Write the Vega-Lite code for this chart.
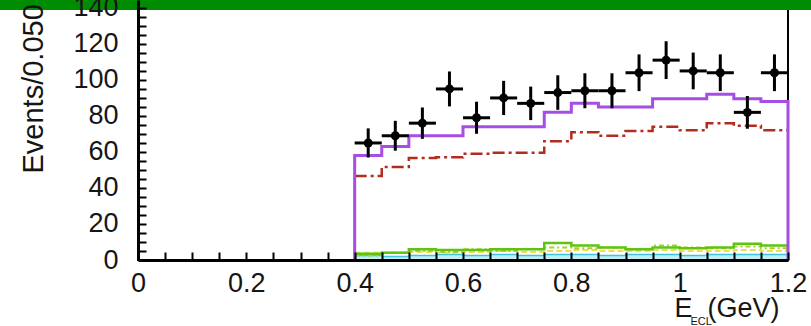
{
  "$schema": "https://vega.github.io/schema/vega-lite/v6.json",
  "width": 650,
  "height": 260,
  "autosize": {"type": "none"},
  "padding": {"left": 138, "top": 0, "right": 23, "bottom": 66},
  "background": "white",
  "config": {"view": {"stroke": "black", "strokeWidth": 2}, "font": "Liberation Sans"},
  "datasets": {
    "total": [
      {"i": 0, "x": 0.4, "v": 0}, {"i": 1, "x": 0.4, "v": 58}, {"i": 2, "x": 0.45, "v": 63},
      {"i": 3, "x": 0.5, "v": 69}, {"i": 4, "x": 0.55, "v": 69}, {"i": 5, "x": 0.6, "v": 74},
      {"i": 6, "x": 0.65, "v": 74}, {"i": 7, "x": 0.7, "v": 74}, {"i": 8, "x": 0.75, "v": 82},
      {"i": 9, "x": 0.8, "v": 87}, {"i": 10, "x": 0.85, "v": 85}, {"i": 11, "x": 0.9, "v": 85},
      {"i": 12, "x": 0.95, "v": 89.5}, {"i": 13, "x": 1.0, "v": 89.5}, {"i": 14, "x": 1.05, "v": 92},
      {"i": 15, "x": 1.1, "v": 89.5}, {"i": 16, "x": 1.15, "v": 88}, {"i": 17, "x": 1.2, "v": 88},
      {"i": 18, "x": 1.2, "v": 0}
    ],
    "comp": [
      {"x": 0.4, "bkg": 46.7, "g1": 3.5, "g2": 2.5, "yel": 4, "cy": 2.5},
      {"x": 0.45, "bkg": 51.7, "g1": 4, "g2": 4, "yel": 4, "cy": 2},
      {"x": 0.5, "bkg": 56.7, "g1": 6, "g2": 5, "yel": 4.5, "cy": 2.5},
      {"x": 0.55, "bkg": 57, "g1": 5.5, "g2": 4.5, "yel": 4, "cy": 3},
      {"x": 0.6, "bkg": 59, "g1": 5.5, "g2": 6, "yel": 4.5, "cy": 2.5},
      {"x": 0.65, "bkg": 59.5, "g1": 6, "g2": 5, "yel": 5, "cy": 3},
      {"x": 0.7, "bkg": 59.5, "g1": 6, "g2": 6, "yel": 4.5, "cy": 2.5},
      {"x": 0.75, "bkg": 66, "g1": 9.5, "g2": 7, "yel": 5, "cy": 3},
      {"x": 0.8, "bkg": 71, "g1": 8, "g2": 6.5, "yel": 5.5, "cy": 3},
      {"x": 0.85, "bkg": 69, "g1": 7, "g2": 7, "yel": 5, "cy": 2.5},
      {"x": 0.9, "bkg": 71.7, "g1": 6, "g2": 6, "yel": 5, "cy": 3},
      {"x": 0.95, "bkg": 74, "g1": 7, "g2": 8, "yel": 5.5, "cy": 3},
      {"x": 1.0, "bkg": 72, "g1": 6.5, "g2": 7, "yel": 5, "cy": 2.5},
      {"x": 1.05, "bkg": 76, "g1": 7, "g2": 6.5, "yel": 5, "cy": 3},
      {"x": 1.1, "bkg": 74.5, "g1": 9, "g2": 7.5, "yel": 5.5, "cy": 3},
      {"x": 1.15, "bkg": 72, "g1": 8, "g2": 6.5, "yel": 5, "cy": 3},
      {"x": 1.2, "bkg": 72, "g1": 8, "g2": 6.5, "yel": 5, "cy": 3}
    ],
    "pts": [
      {"x": 0.425, "x1": 0.4, "x2": 0.45, "n": 65, "lo": 56.9, "hi": 73.1},
      {"x": 0.475, "x1": 0.45, "x2": 0.5, "n": 69, "lo": 60.7, "hi": 77.3},
      {"x": 0.525, "x1": 0.5, "x2": 0.55, "n": 76, "lo": 67.3, "hi": 84.7},
      {"x": 0.575, "x1": 0.55, "x2": 0.6, "n": 95, "lo": 85.3, "hi": 104.7},
      {"x": 0.625, "x1": 0.6, "x2": 0.65, "n": 79, "lo": 70.1, "hi": 87.9},
      {"x": 0.675, "x1": 0.65, "x2": 0.7, "n": 90, "lo": 80.5, "hi": 99.5},
      {"x": 0.725, "x1": 0.7, "x2": 0.75, "n": 87, "lo": 77.7, "hi": 96.3},
      {"x": 0.775, "x1": 0.75, "x2": 0.8, "n": 93, "lo": 83.4, "hi": 102.6},
      {"x": 0.825, "x1": 0.8, "x2": 0.85, "n": 94, "lo": 84.3, "hi": 103.7},
      {"x": 0.875, "x1": 0.85, "x2": 0.9, "n": 94, "lo": 84.3, "hi": 103.7},
      {"x": 0.925, "x1": 0.9, "x2": 0.95, "n": 104, "lo": 93.8, "hi": 114.2},
      {"x": 0.975, "x1": 0.95, "x2": 1.0, "n": 111, "lo": 100.5, "hi": 121.5},
      {"x": 1.025, "x1": 1.0, "x2": 1.05, "n": 105, "lo": 94.8, "hi": 115.2},
      {"x": 1.075, "x1": 1.05, "x2": 1.1, "n": 104, "lo": 93.8, "hi": 114.2},
      {"x": 1.125, "x1": 1.1, "x2": 1.15, "n": 82, "lo": 72.9, "hi": 91.1},
      {"x": 1.175, "x1": 1.15, "x2": 1.2, "n": 104, "lo": 93.8, "hi": 114.2}
    ],
    "frame": [{"part": "header"}]
  },
  "layer": [
    {
      "data": {"name": "comp"},
      "mark": {"type": "area", "interpolate": "step-after", "color": "#bdeff7", "opacity": 1},
      "encoding": {
        "x": {
          "field": "x", "type": "quantitative",
          "scale": {"domain": [0, 1.2], "nice": false, "zero": false},
          "axis": {
            "orient": "bottom", "tickCount": 24,
            "labelExpr": "abs(datum.value*5-round(datum.value*5))<0.001 ? format(datum.value,'~g') : ''",
            "tickSize": -8,
            "tickWidth": 2, "tickColor": "black", "ticks": true,
            "domainColor": "black", "domainWidth": 3,
            "labelFontSize": 27, "labelColor": "#151515", "labelPadding": 18,
            "labelFlush": false, "labelOverlap": false, "grid": false,
            "title": "E\u00a0\u00a0(GeV)", "titleFontSize": 27, "titleFontWeight": "normal",
            "titleAlign": "left", "titleBaseline": "alphabetic", "titleX": 536, "titleY": 56,
            "titleColor": "#151515", "zindex": 1
          }
        },
        "y": {
          "field": "cy", "type": "quantitative", "title": "Events/0.050 GeV",
          "scale": {"domain": [0, 144.4], "nice": false},
          "axis": {
            "tickCount": 36,
            "labelExpr": "datum.value % 20 === 0 ? format(datum.value, 'd') : ''",
            "tickSize": -8,
            "tickWidth": 2, "tickColor": "black", "ticks": true,
            "domainColor": "black", "domainWidth": 3,
            "labelFontSize": 27, "labelColor": "#151515", "labelPadding": 28,
            "labelOverlap": false, "labelFlush": false, "grid": false,
            "titleFontSize": 29, "titleFontWeight": "normal", "titleColor": "#151515",
            "titleAngle": 270, "titleAlign": "left", "titleBaseline": "alphabetic",
            "titleX": -96, "titleY": 173, "zindex": 1
          }
        }
      }
    },
    {
      "data": {"name": "comp"},
      "mark": {"type": "line", "interpolate": "step-after", "color": "#45c2dc", "strokeWidth": 1.5},
      "encoding": {
        "x": {"field": "x", "type": "quantitative", "axis": null, "scale": {"domain": [0, 1.2], "nice": false, "zero": false}},
        "y": {"field": "cy", "type": "quantitative", "title": "Events/0.050 GeV", "scale": {"domain": [0, 144.4], "nice": false}}
      }
    },
    {
      "data": {"name": "comp"},
      "mark": {"type": "line", "interpolate": "step-after", "color": "#f0dc50", "strokeWidth": 2, "strokeDash": [6, 3]},
      "encoding": {
        "x": {"field": "x", "type": "quantitative", "axis": null, "scale": {"domain": [0, 1.2], "nice": false, "zero": false}},
        "y": {"field": "yel", "type": "quantitative", "title": "Events/0.050 GeV", "scale": {"domain": [0, 144.4], "nice": false}}
      }
    },
    {
      "data": {"name": "comp"},
      "mark": {"type": "line", "interpolate": "step-after", "color": "#a8d02a", "strokeWidth": 2, "strokeDash": [5, 3, 2, 3]},
      "encoding": {
        "x": {"field": "x", "type": "quantitative", "axis": null, "scale": {"domain": [0, 1.2], "nice": false, "zero": false}},
        "y": {"field": "g2", "type": "quantitative", "title": "Events/0.050 GeV", "scale": {"domain": [0, 144.4], "nice": false}}
      }
    },
    {
      "data": {"name": "comp"},
      "mark": {"type": "line", "interpolate": "step-after", "color": "#5fc40f", "strokeWidth": 2.5},
      "encoding": {
        "x": {"field": "x", "type": "quantitative", "axis": null, "scale": {"domain": [0, 1.2], "nice": false, "zero": false}},
        "y": {"field": "g1", "type": "quantitative", "title": "Events/0.050 GeV", "scale": {"domain": [0, 144.4], "nice": false}}
      }
    },
    {
      "data": {"name": "comp"},
      "mark": {"type": "line", "interpolate": "step-after", "color": "#b22d1e", "strokeWidth": 2.5, "strokeDash": [12, 4, 3, 4]},
      "encoding": {
        "x": {"field": "x", "type": "quantitative", "axis": null, "scale": {"domain": [0, 1.2], "nice": false, "zero": false}},
        "y": {"field": "bkg", "type": "quantitative", "title": "Events/0.050 GeV", "scale": {"domain": [0, 144.4], "nice": false}}
      }
    },
    {
      "data": {"name": "total"},
      "mark": {"type": "line", "interpolate": "step-after", "color": "#a64de6", "strokeWidth": 3},
      "encoding": {
        "x": {"field": "x", "type": "quantitative", "axis": null, "scale": {"domain": [0, 1.2], "nice": false, "zero": false}},
        "y": {"field": "v", "type": "quantitative", "title": "Events/0.050 GeV", "scale": {"domain": [0, 144.4], "nice": false}},
        "order": {"field": "i", "type": "quantitative"}
      }
    },
    {
      "data": {"name": "pts"},
      "mark": {"type": "rule", "color": "black", "strokeWidth": 3},
      "encoding": {
        "x": {"field": "x", "type": "quantitative", "axis": null, "scale": {"domain": [0, 1.2], "nice": false, "zero": false}},
        "y": {"field": "lo", "type": "quantitative", "title": "Events/0.050 GeV", "scale": {"domain": [0, 144.4], "nice": false}},
        "y2": {"field": "hi"}
      }
    },
    {
      "data": {"name": "pts"},
      "mark": {"type": "rule", "color": "black", "strokeWidth": 3},
      "encoding": {
        "x": {"field": "x1", "type": "quantitative", "axis": null, "scale": {"domain": [0, 1.2], "nice": false, "zero": false}},
        "x2": {"field": "x2"},
        "y": {"field": "n", "type": "quantitative", "title": "Events/0.050 GeV", "scale": {"domain": [0, 144.4], "nice": false}}
      }
    },
    {
      "data": {"name": "pts"},
      "mark": {"type": "circle", "color": "black", "size": 80, "opacity": 1},
      "encoding": {
        "x": {
          "field": "x", "type": "quantitative",
          "scale": {"domain": [0, 1.2], "nice": false, "zero": false},
          "axis": {
            "orient": "top", "domain": false, "ticks": false, "labels": false, "grid": false,
            "title": "ECL", "titleFontSize": 11, "titleFontWeight": "normal", "titleColor": "#151515",
            "titleAlign": "left", "titleBaseline": "alphabetic", "titleX": 552, "titleY": 324, "zindex": 0
          }
        },
        "y": {"field": "n", "type": "quantitative", "title": "Events/0.050 GeV", "scale": {"domain": [0, 144.4], "nice": false}}
      }
    },
    {
      "data": {"name": "frame"},
      "mark": {"type": "rect", "color": "#008c00", "opacity": 1, "clip": false},
      "encoding": {
        "x": {"datum": -0.3, "type": "quantitative", "axis": null, "scale": {"domain": [0, 1.2], "nice": false, "zero": false}},
        "x2": {"datum": 1.3},
        "y": {"datum": 150, "type": "quantitative", "title": "Events/0.050 GeV", "scale": {"domain": [0, 144.4], "nice": false}},
        "y2": {"datum": 138.9}
      }
    }
  ],
  "resolve": {"axis": {"x": "independent"}}
}
